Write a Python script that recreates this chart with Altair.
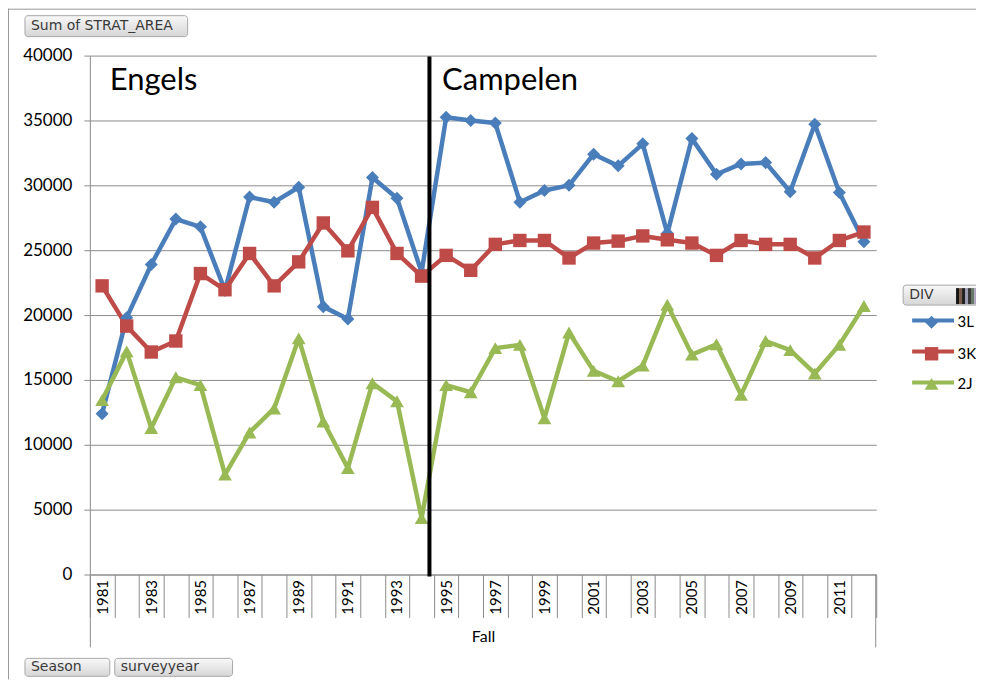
import altair as alt
import pandas as pd

# ---------------- data ----------------
years = list(range(1981, 2013))
divisions = ["3L", "3K", "2J"]
div_3L = [12400, 19800, 23900, 27400, 26800, 21900, 29100, 28700, 29850, 20650, 19700, 30600, 29000, 23300,
          35250, 35000, 34800, 28700, 29600, 30000, 32400, 31500, 33200, 26300, 33600, 30850, 31650, 31750,
          29500, 34700, 29450, 25650]
div_3K = [22250, 19150, 17150, 18000, 23200, 21950, 24750, 22250, 24100, 27100, 24950, 28300, 24750, 23000,
          24600, 23450, 25450, 25750, 25750, 24400, 25550, 25700, 26100, 25800, 25550, 24600, 25750, 25450,
          25450, 24400, 25750, 26400]
div_2J = [13450, 17200, 11300, 15200, 14600, 7700, 10950, 12800, 18200, 11800, 8200, 14750, 13350, 4350,
          14600, 14050, 17450, 17700, 12050, 18650, 15700, 14900, 16100, 20800, 16950, 17750, 13850, 18000,
          17300, 15500, 17700, 20700]
split_year = [1994]
y_ticks = list(range(0, 40001, 5000))

colors = ["#4A7EBB", "#BE4B48", "#98B954"]
shapes = ["diamond", "square", "triangle-up"]
marker_sizes = [170, 190, 250]

df = pd.DataFrame({
    "surveyyear": years * 3,
    "DIV": ["3L"] * len(years) + ["3K"] * len(years) + ["2J"] * len(years),
    "STRAT_AREA": div_3L + div_3K + div_2J,
})
# marker copy of the series key (distinct domain so its legend is kept apart from the line legend)
df["DIV_marker"] = df["DIV"] + " "
marker_domain = [d + " " for d in divisions]
split_df = pd.DataFrame({"surveyyear": split_year})

FONT = "Lato"
GRAY = "#8c8c8c"

xscale = alt.Scale(type="band", paddingInner=0, paddingOuter=0)
xaxis = alt.Axis(
    title="Fall", titleFontSize=16, titleFontWeight="normal", titleColor="black", titleFont=FONT,
    titleY=62, titleBaseline="middle",
    tickBand="extent", tickSize=43, tickColor=GRAY, domainColor=GRAY,
    labelAngle=270, labelAlign="right", labelBaseline="middle", labelPadding=-38,
    labelExpr="datum.value % 2 == 1 ? datum.label : ''", labelOverlap=False,
    labelFontSize=15, labelFont=FONT, labelColor="black", grid=False,
)
yenc = alt.Y(
    "STRAT_AREA:Q",
    scale=alt.Scale(domain=[0, 40000], nice=False),
    axis=alt.Axis(title=None, values=y_ticks, format="d", tickSize=6, labelPadding=12, gridColor=GRAY,
                  domainColor=GRAY, tickColor=GRAY, labelFontSize=17, labelFont=FONT,
                  labelColor="black", grid=True),
)

# line part of the legend (no labels), marker part of the legend carries the labels
line_legend = alt.Legend(title=None, orient="none", legendX=822, legendY=250, symbolType="stroke",
                         symbolSize=1764, symbolStrokeWidth=4, clipHeight=31, rowPadding=0,
                         labelExpr="''", padding=0)
marker_legend = alt.Legend(title=None, orient="none", legendX=835.5, legendY=259.6,
                           rowPadding=10.7, padding=0, labelOffset=18,
                           labelFontSize=15, labelFont=FONT, labelColor="black", labelLimit=60)

lines = alt.Chart(df).mark_line(strokeWidth=4.5, strokeJoin="round", strokeCap="round").encode(
    x=alt.X("surveyyear:O", bandPosition=0.5, scale=xscale, axis=xaxis),
    y=yenc,
    stroke=alt.Stroke("DIV:N", scale=alt.Scale(domain=divisions, range=colors), legend=line_legend),
)

points = alt.Chart(df).mark_point(filled=True, opacity=1, strokeWidth=0).encode(
    x=alt.X("surveyyear:O", bandPosition=0.5, scale=xscale),
    y=alt.Y("STRAT_AREA:Q"),
    fill=alt.Fill("DIV_marker:N", scale=alt.Scale(domain=marker_domain, range=colors), legend=marker_legend),
    shape=alt.Shape("DIV_marker:N", scale=alt.Scale(domain=marker_domain, range=shapes), legend=marker_legend),
    size=alt.Size("DIV_marker:N", scale=alt.Scale(domain=marker_domain, range=marker_sizes), legend=marker_legend),
)

split_rule = alt.Chart(split_df).mark_rule(color="black", strokeWidth=4).encode(
    x=alt.X("surveyyear:O", bandPosition=0.82, scale=xscale),
    y=alt.value(1),
    y2=alt.value(522),
)

blank = alt.Data(values=[{}])


def txt(label, x, y, size, font=FONT, color="black", align="left"):
    return alt.Chart(blank).mark_text(align=align, baseline="middle", font=font, fontSize=size,
                                      color=color).encode(
        x=alt.value(x), y=alt.value(y), text=alt.value(label))


def vrule(x, y, y2, color=GRAY, w=1):
    return alt.Chart(blank).mark_rule(color=color, strokeWidth=w).encode(
        x=alt.value(x), y=alt.value(y), y2=alt.value(y2))


def hrule(x, x2, y, color=GRAY, w=1):
    return alt.Chart(blank).mark_rule(color=color, strokeWidth=w).encode(
        x=alt.value(x), x2=alt.value(x2), y=alt.value(y))


def button(x1, x2, y1, y2, label, tx):
    grad = alt.Gradient(gradient="linear", x1=0, x2=0, y1=0, y2=1,
                        stops=[alt.GradientStop(color="#f8f8f8", offset=0),
                               alt.GradientStop(color="#d6d6d6", offset=1)])
    r = alt.Chart(blank).mark_rect(cornerRadius=3, stroke="#a8a8a8", strokeWidth=1, fill=grad).encode(
        x=alt.value(x1), x2=alt.value(x2), y=alt.value(y1), y2=alt.value(y2))
    return r + txt(label, tx, (y1 + y2) / 2, 14, font="DejaVu Sans", color="#3a3a3a")


stripe_colors = ["#151515", "#7a5a4a", "#202020", "#9c9cb0", "#3a3a3a", "#6a7a6a", "#b0a8c0", "#2a2a2a"]
stripes = [
    alt.Chart(blank).mark_rect(fill=c).encode(
        x=alt.value(868 + 3 * i), x2=alt.value(871 + 3 * i), y=alt.value(233), y2=alt.value(249))
    for i, c in enumerate(stripe_colors)
]

chart = alt.layer(
    vrule(-81.5, -47, 625, color="#9a9a9a"),
    hrule(-82, 900, -46.5, color="#9a9a9a"),
    vrule(0.5, 520, 593),
    vrule(787.5, 520, 593),
    lines,
    points,
    split_rule,
    txt("Engels", 20, 25, 31),
    txt("Campelen", 353, 25, 31),
    button(-65, 98, -40, -19, "Sum of STRAT_AREA", -59),
    button(-65, 20, 604, 622, "Season", -59),
    button(25, 143, 604, 622, "surveyyear", 31),
    button(815, 900, 230, 250, "DIV", 821),
    *stripes,
).properties(
    width=788,
    height=520,
    autosize=alt.AutoSizeParams(type="none"),
    padding={"left": 82, "top": 47, "right": 100, "bottom": 105},
).configure(font=FONT).configure_view(strokeWidth=0, stroke="transparent")

chart.save("out.html", embed_options={"renderer": "svg", "actions": False})
